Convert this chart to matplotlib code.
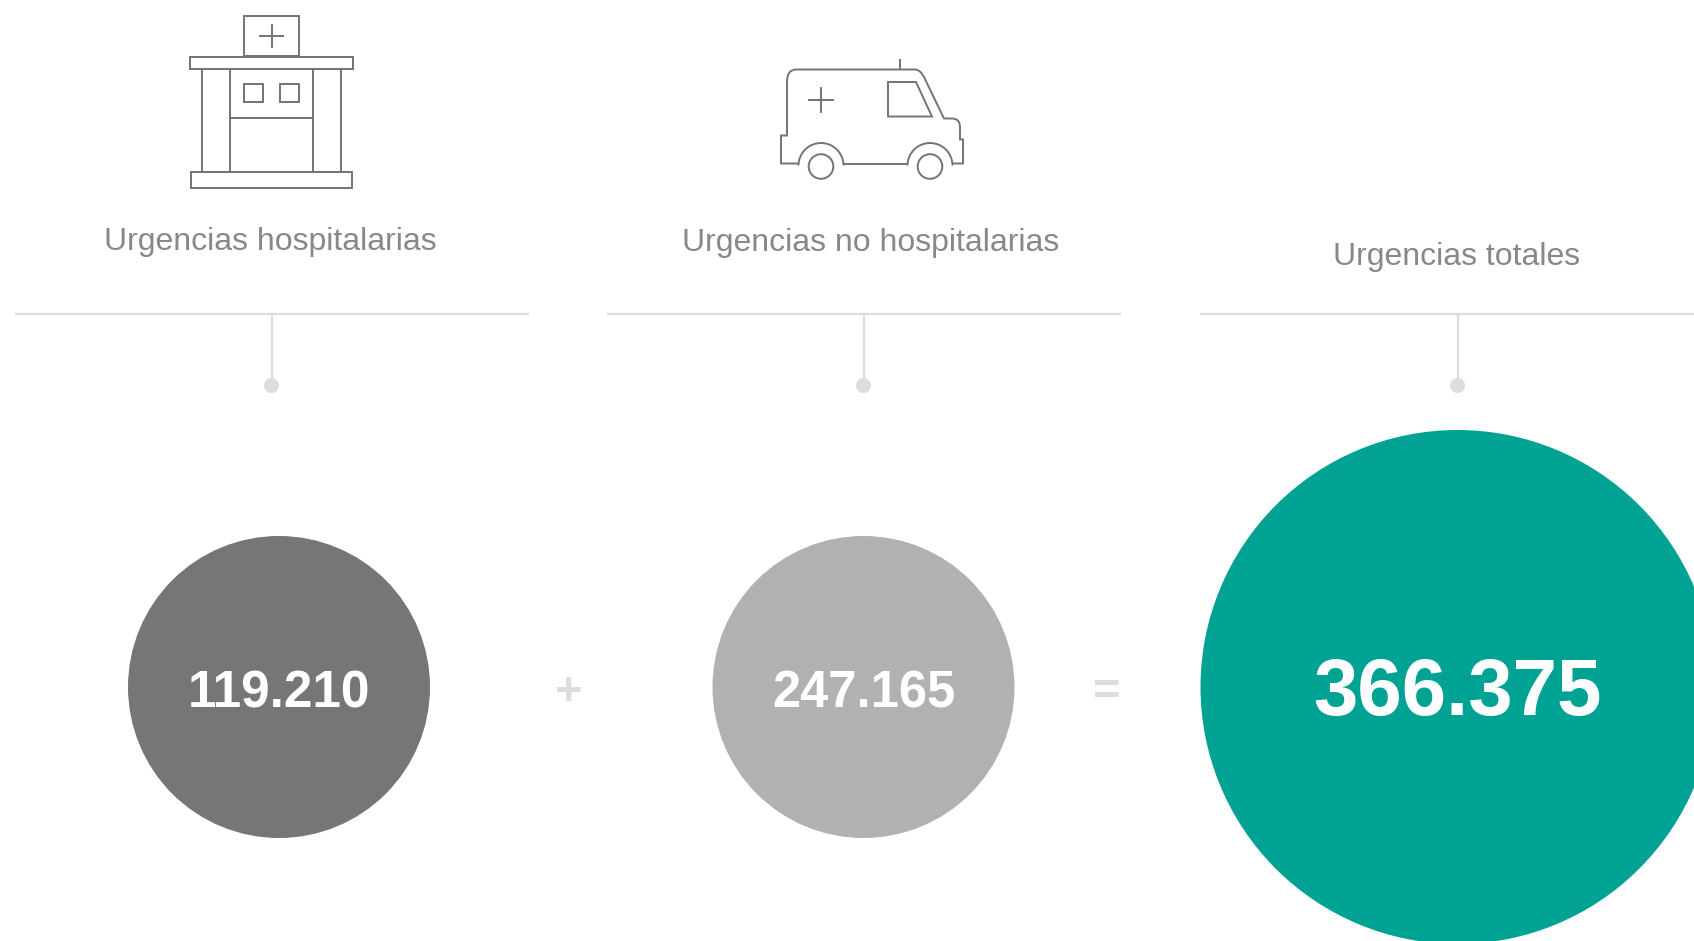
import matplotlib
matplotlib.use("Agg")
import matplotlib.pyplot as plt
from matplotlib.patches import Circle, Rectangle, Polygon, PathPatch, Arc
from matplotlib.path import Path

# datos del grafico
labels = ["Urgencias hospitalarias", "Urgencias no hospitalarias", "Urgencias totales"]
values = ["119.210", "247.165", "366.375"]
operators = ["+", "="]

GREY_LINE = "#737478"
RULE = "#dcddde"
TEXT = "#87888a"
colors = ["#767677", "#b0b1b3", "#00a294"]

plt.rcParams["font.family"] = ["Liberation Sans", "DejaVu Sans"]

fig = plt.figure(figsize=(16.94, 9.41), dpi=100)
ax = fig.add_axes([0, 0, 1, 1])
ax.set_xlim(0, 1694)
ax.set_ylim(941, 0)
ax.axis("off")

# reglas, tallos y puntos
rules = [(15, 528.5), (606.5, 1120.5), (1200, 1694)]
stems = [271.5, 863.5, 1457.5]
for (x0, x1), sx in zip(rules, stems):
    ax.plot([x0, x1], [313.5, 313.5], color=RULE, lw=1.6, solid_capstyle="butt")
    ax.plot([sx, sx], [313.5, 385], color=RULE, lw=1.6)
    ax.add_patch(Circle((sx, 385.5), 7.5, color=RULE, lw=0))

# etiquetas
label_pos = [(270.5, 241.5), (871, 242.5), (1457, 256.5)]
for name, (x, y) in zip(labels, label_pos):
    ax.text(x, y, name, ha="center", va="center", fontsize=23, color=TEXT)

# circulos con los valores
centers = [(279, 687, 151), (863.5, 687, 151), (1457.5, 687, 257)]
sizes = [37, 36.5, 57.5]
for val, c, (x, y, r), fs in zip(values, colors, centers, sizes):
    ax.add_patch(Circle((x, y), r, color=c, lw=0))
    ax.text(x, y + 7, val, ha="center", va="center", fontsize=fs,
            color="white", fontweight="bold")

ax.text(568.5, 693, operators[0], ha="center", va="center", fontsize=34,
        color=RULE, fontweight="bold")
ax.text(1107, 693, operators[1], ha="center", va="center", fontsize=34,
        color=RULE, fontweight="bold")


def rect(x0, y0, x1, y1):
    ax.add_patch(Rectangle((x0, y0), x1 - x0, y1 - y0, fill=False,
                           ec=GREY_LINE, lw=1.4))


def seg(x0, y0, x1, y1):
    ax.plot([x0, x1], [y0, y1], color=GREY_LINE, lw=1.4, solid_capstyle="butt")


# icono hospital
rect(244, 15.5, 299, 56)
seg(259, 36, 284, 36)
seg(271.5, 24, 271.5, 48)
rect(190, 56.5, 353, 69)
rect(202, 69, 230, 172)
rect(313, 69, 341, 172)
rect(244, 84, 263, 102)
rect(280, 84, 299, 102)
seg(230, 117.5, 313, 117.5)
rect(191, 172, 352, 188)

# icono ambulancia
M, L, C = Path.MOVETO, Path.LINETO, Path.CURVE3
verts = [(799, 163.5), (781, 163.5), (781, 135.5), (787, 135.5), (787, 82), (787, 69.5), (796, 69.5),
         (915, 69.5), (920, 69.5), (924, 77), (944, 118.5), (952, 118.5), (960, 118.5), (960, 127),
         (960, 139.5), (963, 139.5), (963, 163.5), (952, 163.5)]
codes = [M, L, L, L, L, C, C, L, C, C, L, L, C, C, L, L, L, L]
ax.add_patch(PathPatch(Path(verts, codes), fill=False, ec=GREY_LINE, lw=1.4))
seg(908, 163.5, 843, 163.5)
for cx in (821, 930):
    ax.add_patch(Arc((cx, 165.5), 45, 45, theta1=180, theta2=360, ec=GREY_LINE, lw=1.4))
    ax.add_patch(Circle((cx, 166.5), 12.3, fill=False, ec=GREY_LINE, lw=1.4))
seg(900, 59, 900, 70)
seg(808, 100, 834, 100)
seg(821, 87, 821, 113)
ax.add_patch(Polygon([(888, 82), (916, 82), (932, 116.5), (888, 116.5)], closed=True,
                     fill=False, ec=GREY_LINE, lw=1.4))

fig.savefig("out.png", dpi=100)
